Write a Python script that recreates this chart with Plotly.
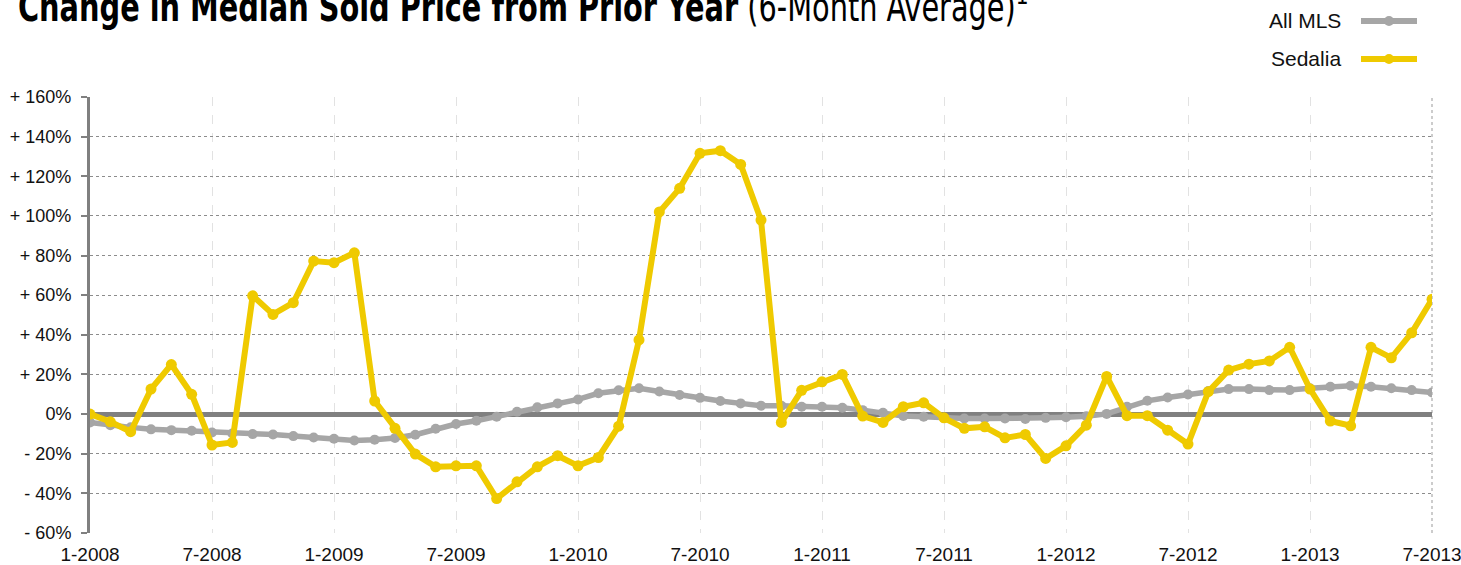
import plotly.graph_objects as go

# Monthly periods, Jan 2008 through Jul 2013
months = [f"{m}-{y}" for y in range(2008, 2014) for m in range(1, 13)][:67]

# Year-over-year change in median sold price (6-month average), percent
all_mls = [
    -4.2, -5.6, -6.7, -7.7, -8.1, -8.4, -9.3, -9.8, -10.1, -10.3,
    -11.1, -11.8, -12.4, -13.3, -12.9, -12.1, -10.4, -7.4, -5.0, -3.4,
    -1.3, 1.2, 3.4, 5.4, 7.4, 10.5, 12.0, 13.0, 11.4, 9.6,
    8.2, 6.6, 5.4, 4.2, 4.2, 3.7, 3.7, 3.2, 2.0, 0.7,
    -1.0, -1.3, -1.9, -2.2, -2.2, -2.2, -2.5, -1.9, -1.6, -1.1,
    0.1, 3.7, 6.7, 8.4, 9.9, 11.6, 12.6, 12.6, 12.1, 12.1,
    13.0, 13.8, 14.3, 13.8, 13.0, 12.1, 10.9,
]
sedalia = [
    0.0, -3.9, -8.9, 12.6, 25.0, 10.0, -15.6, -14.3, 59.7, 50.3,
    56.2, 77.2, 76.4, 81.4, 6.6, -7.2, -20.2, -26.6, -26.1, -26.1,
    -42.6, -34.2, -26.6, -21.0, -26.1, -21.9, -6.1, 37.4, 102.0, 113.9,
    131.6, 132.9, 126.0, 97.9, -4.2, 12.0, 16.3, 20.0, -1.0, -4.2,
    3.7, 5.7, -1.9, -7.2, -6.4, -12.0, -10.3, -22.4, -16.0, -5.6,
    19.0, -0.8, -0.8, -8.1, -15.1, 11.3, 22.2, 25.2, 26.8, 33.7,
    12.6, -3.5, -5.9, 33.7, 28.4, 41.0, 57.9,
]

y_ticks = list(range(-60, 161, 20))
y_labels = [f"+ {v}%" if v > 0 else ("0%" if v == 0 else f"- {abs(v)}%") for v in y_ticks]

MLS_GRAY = "#a6a6a6"
SED_YELLOW = "#efca00"
AXIS_GRAY = "#808080"
FONT = "Liberation Sans, Arial, Helvetica, sans-serif"

# figure and plot-area geometry in pixels (used for the hand-drawn legend)
W, H = 1461, 565
L, R, T, B = 90, 29, 97, 32
PW, PH = W - L - R, H - T - B

fig = go.Figure()
fig.add_trace(go.Scatter(
    x=months, y=all_mls, name="All MLS", mode="lines+markers",
    line=dict(color=MLS_GRAY, width=5.5), marker=dict(color=MLS_GRAY, size=10),
    showlegend=False,
))
fig.add_trace(go.Scatter(
    x=months, y=sedalia, name="Sedalia", mode="lines+markers",
    line=dict(color=SED_YELLOW, width=6), marker=dict(color=SED_YELLOW, size=11),
    showlegend=False,
))

# Legend at the top right: label text followed by a line sample with a dot
legend_items = [("All MLS", MLS_GRAY, 21), ("Sedalia", SED_YELLOW, 59)]
for label, color, py in legend_items:
    yp = (H - B - py) / PH
    fig.add_annotation(
        xref="paper", yref="paper", x=(1343 - L) / PW, y=yp,
        xanchor="right", yanchor="middle", text=label, showarrow=False,
        font=dict(family=FONT, size=21, color="#111"),
    )
    fig.add_shape(type="line", xref="paper", yref="paper",
                  x0=(1361 - L) / PW, x1=(1417 - L) / PW, y0=yp, y1=yp,
                  line=dict(color=color, width=6))
    xc = (1389 - L) / PW
    dx, dy = 5 / PW, 5 / PH
    fig.add_shape(type="circle", xref="paper", yref="paper",
                  x0=xc - dx, x1=xc + dx, y0=yp - dy, y1=yp + dy,
                  fillcolor=color, line=dict(color=color, width=0))

# Dotted frame line on the right edge of the plot
fig.add_shape(type="line", xref="paper", yref="paper", x0=1, x1=1, y0=0, y1=1,
              line=dict(color="#999999", width=1, dash="dot"), layer="below")

fig.update_layout(
    width=W, height=H, autosize=False,
    margin=dict(l=L, r=R, t=T, b=B, autoexpand=False),
    paper_bgcolor="white", plot_bgcolor="white",
    title=dict(
        text="<b>Change in Median Sold Price from Prior Year</b> (6-Month Average)<sup>1</sup>",
        font=dict(family="DejaVu Sans Condensed, DejaVu Sans, sans-serif", size=40, color="#000"),
        xref="container", yref="container", x=18 / W, xanchor="left",
        y=(H - 21) / H, yanchor="bottom", automargin=False,
    ),
    xaxis=dict(
        type="category", range=[0, 66], automargin=False,
        tickvals=months[::6], ticks="",
        showgrid=True, gridcolor="#e2e2e2", gridwidth=1, griddash="dash",
        showline=False, zeroline=False,
        tickfont=dict(family=FONT, size=19, color="#111"),
        ticklabelstandoff=8,
    ),
    yaxis=dict(
        range=[-60, 160], tickvals=y_ticks, ticktext=y_labels, automargin=False,
        showgrid=True, gridcolor="#8c8c8c", gridwidth=1, griddash="dot",
        zeroline=True, zerolinecolor=AXIS_GRAY, zerolinewidth=4.5,
        showline=True, linecolor=AXIS_GRAY, linewidth=3,
        ticks="outside", ticklen=6, tickwidth=2, tickcolor=AXIS_GRAY,
        tickfont=dict(family=FONT, size=18, color="#111"),
        ticklabelstandoff=6,
    ),
)

# The heading is set condensed: narrow the title glyphs horizontally
condense_title = """
var gd = document.getElementById('{plot_id}');
function condense() {
  var t = gd.querySelector('.gtitle');
  if (!t) return;
  t.style.transformOrigin = (t.getAttribute('x') || 0) + 'px 0px';
  t.style.transform = 'scaleX(0.80)';
}
condense();
gd.on('plotly_afterplot', condense);
"""

fig.write_html("out.html", post_script=condense_title,
               config={"responsive": False})
